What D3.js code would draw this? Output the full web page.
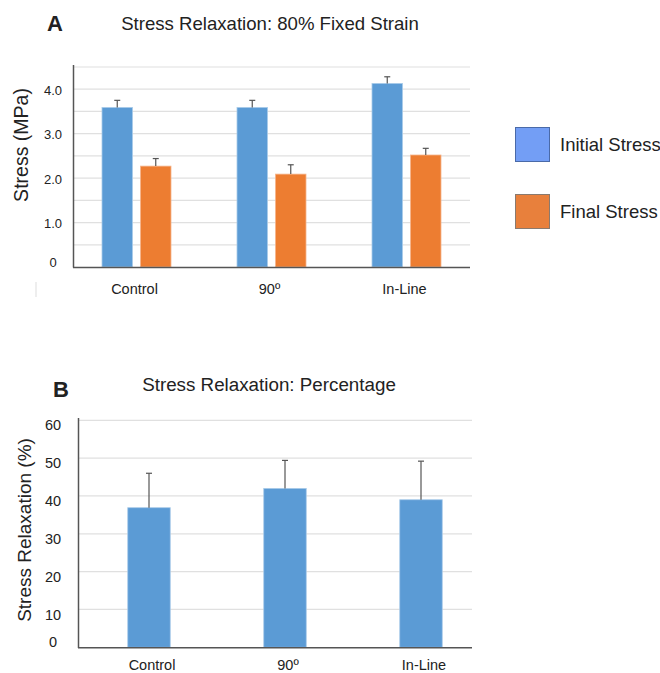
<!DOCTYPE html>
<html>
<head>
<meta charset="utf-8">
<script src="https://cdn.jsdelivr.net/npm/d3@7"></script>
<style>
  body { margin: 0; background: #fff; }
  text { font-family: "Liberation Sans", Arial, sans-serif; fill: #222; }
</style>
</head>
<body>
<div id="chart"></div>
<script>
// data
var groups = ['Control', '90º', 'In-Line'];
var initialStress = [3.59, 3.59, 4.13];
var initialErr = [0.16, 0.16, 0.15];
var finalStress = [2.27, 2.09, 2.52];
var finalErr = [0.17, 0.21, 0.15];
var relaxPct = [36.9, 42.0, 39.0];
var relaxErr = [9.1, 7.4, 10.2];
var stressTicks = [0, 1, 2, 3, 4];
var pctTicks = [0, 10, 20, 30, 40, 50, 60];
var legendNames = ['Initial Stress', 'Final Stress'];

var barBlue = '#5b9bd5', barOrange = '#ed7d31';

var svg = d3.select('#chart')
    .append('svg')
    .attr('width', 660)
    .attr('height', 673);

// error bar helper
function errBar(g, x, yTop, yEnd) {
    g.append('line')
        .attr('x1', x).attr('x2', x)
        .attr('y1', yTop).attr('y2', yEnd)
        .attr('stroke', '#555').attr('stroke-width', 1.2);
    g.append('line')
        .attr('x1', x - 3).attr('x2', x + 3)
        .attr('y1', yEnd).attr('y2', yEnd)
        .attr('stroke', '#555').attr('stroke-width', 1.2);
}

// ---------- Panel A ----------
var a = svg.append('g');
var xA = d3.scaleBand().domain(groups).range([69, 474]);
var yA = d3.scaleLinear().domain([0, 4.5]).range([267, 67]);

// gridlines every 0.5
a.selectAll('.grid')
    .data(d3.range(0.5, 4.51, 0.5))
    .enter().append('line')
    .attr('x1', 74).attr('x2', 470)
    .attr('y1', function (d) { return yA(d); })
    .attr('y2', function (d) { return yA(d); })
    .attr('stroke', '#e0e0e0').attr('stroke-width', 1.2);

a.selectAll('.tick-label')
    .data(stressTicks)
    .enter().append('text')
    .attr('x', 53)
    .attr('y', function (d) { return d === 0 ? yA(d) - 5 : yA(d) + 1; })
    .attr('dy', '0.35em')
    .attr('text-anchor', 'middle')
    .attr('font-size', 13)
    .attr('fill', '#333')
    .text(function (d) { return d === 0 ? '0' : d.toFixed(1); });

var barW = 30.5, gap = 8;
groups.forEach(function (g, i) {
    var c = xA(g) + xA.bandwidth() / 2;
    var bx = c - gap / 2 - barW, ox = c + gap / 2;
    a.append('rect')
        .attr('x', bx).attr('y', yA(initialStress[i]))
        .attr('width', barW).attr('height', yA(0) - yA(initialStress[i]))
        .attr('fill', barBlue).attr('stroke', '#a9cbe9').attr('stroke-width', 0.8);
    a.append('rect')
        .attr('x', ox).attr('y', yA(finalStress[i]))
        .attr('width', barW).attr('height', yA(0) - yA(finalStress[i]))
        .attr('fill', barOrange).attr('stroke', '#f5b58c').attr('stroke-width', 0.8);
    errBar(a, bx + barW / 2, yA(initialStress[i]), yA(initialStress[i] + initialErr[i]));
    errBar(a, ox + barW / 2, yA(finalStress[i]), yA(finalStress[i] + finalErr[i]));
    a.append('text')
        .attr('x', c - 2).attr('y', 294)
        .attr('text-anchor', 'middle')
        .attr('font-size', 14.5)
        .text(g);
});

// axes lines
a.append('line').attr('x1', 73.5).attr('x2', 73.5).attr('y1', 65).attr('y2', 267.5)
    .attr('stroke', '#555').attr('stroke-width', 1.5);
a.append('line').attr('x1', 73).attr('x2', 470).attr('y1', 267.5).attr('y2', 267.5)
    .attr('stroke', '#555').attr('stroke-width', 1.5);
// stray mark
a.append('line').attr('x1', 36).attr('x2', 36).attr('y1', 282).attr('y2', 297)
    .attr('stroke', '#ddd').attr('stroke-width', 1);

a.append('text')
    .attr('transform', 'translate(28,145) rotate(-90)')
    .attr('text-anchor', 'middle')
    .attr('font-size', 19.5)
    .text('Stress (MPa)');
a.append('text')
    .attr('x', 270).attr('y', 30)
    .attr('text-anchor', 'middle')
    .attr('font-size', 18.6)
    .text('Stress Relaxation: 80% Fixed Strain');
a.append('text')
    .attr('x', 47).attr('y', 31)
    .attr('font-size', 22).attr('font-weight', 'bold').attr('fill', '#111')
    .text('A');

// legend
var legColors = [['#739ef5', '#4a6aa8'], ['#e8803c', '#8a7a6e']];
legendNames.forEach(function (n, i) {
    var ly = 127 + i * 67;
    svg.append('rect')
        .attr('x', 515.5).attr('y', ly + 0.5)
        .attr('width', 34).attr('height', 34)
        .attr('fill', legColors[i][0]).attr('stroke', legColors[i][1]).attr('stroke-width', 1);
    svg.append('text')
        .attr('x', 560).attr('y', ly + 18)
        .attr('dy', '0.35em')
        .attr('font-size', 18.5)
        .text(n);
});

// ---------- Panel B ----------
var b = svg.append('g');
var xB = d3.scaleBand().domain(groups).range([81, 489]);
var yB = d3.scaleLinear().domain([0, 60]).range([647.3, 420.3]);

b.selectAll('.grid')
    .data(pctTicks.slice(1))
    .enter().append('line')
    .attr('x1', 79).attr('x2', 472)
    .attr('y1', function (d) { return yB(d); })
    .attr('y2', function (d) { return yB(d); })
    .attr('stroke', '#e0e0e0').attr('stroke-width', 1.2);

b.selectAll('.tick-label')
    .data(pctTicks)
    .enter().append('text')
    .attr('x', 53)
    .attr('y', function (d) { return d === 0 ? yB(d) - 5 : yB(d) + 5; })
    .attr('dy', '0.35em')
    .attr('text-anchor', 'middle')
    .attr('font-size', 14.5)
    .attr('fill', '#333')
    .text(function (d) { return d; });

var barWB = 42.5;
groups.forEach(function (g, i) {
    var c = xB(g) + xB.bandwidth() / 2;
    b.append('rect')
        .attr('x', c - barWB / 2).attr('y', yB(relaxPct[i]))
        .attr('width', barWB).attr('height', yB(0) - yB(relaxPct[i]))
        .attr('fill', barBlue).attr('stroke', '#a9cbe9').attr('stroke-width', 0.8);
    errBar(b, c, yB(relaxPct[i]), yB(relaxPct[i] + relaxErr[i]));
    b.append('text')
        .attr('x', c + 3).attr('y', 670)
        .attr('text-anchor', 'middle')
        .attr('font-size', 14.5)
        .text(g);
});

b.append('line').attr('x1', 78.5).attr('x2', 78.5).attr('y1', 418).attr('y2', 648)
    .attr('stroke', '#555').attr('stroke-width', 1.5);
b.append('line').attr('x1', 78).attr('x2', 472).attr('y1', 647.8).attr('y2', 647.8)
    .attr('stroke', '#555').attr('stroke-width', 1.5);

b.append('text')
    .attr('transform', 'translate(31,530) rotate(-90)')
    .attr('text-anchor', 'middle')
    .attr('font-size', 19)
    .text('Stress Relaxation (%)');
b.append('text')
    .attr('x', 269).attr('y', 391)
    .attr('text-anchor', 'middle')
    .attr('font-size', 18.8)
    .text('Stress Relaxation: Percentage');
b.append('text')
    .attr('x', 53).attr('y', 397)
    .attr('font-size', 22).attr('font-weight', 'bold').attr('fill', '#111')
    .text('B');
</script>
</body>
</html>
